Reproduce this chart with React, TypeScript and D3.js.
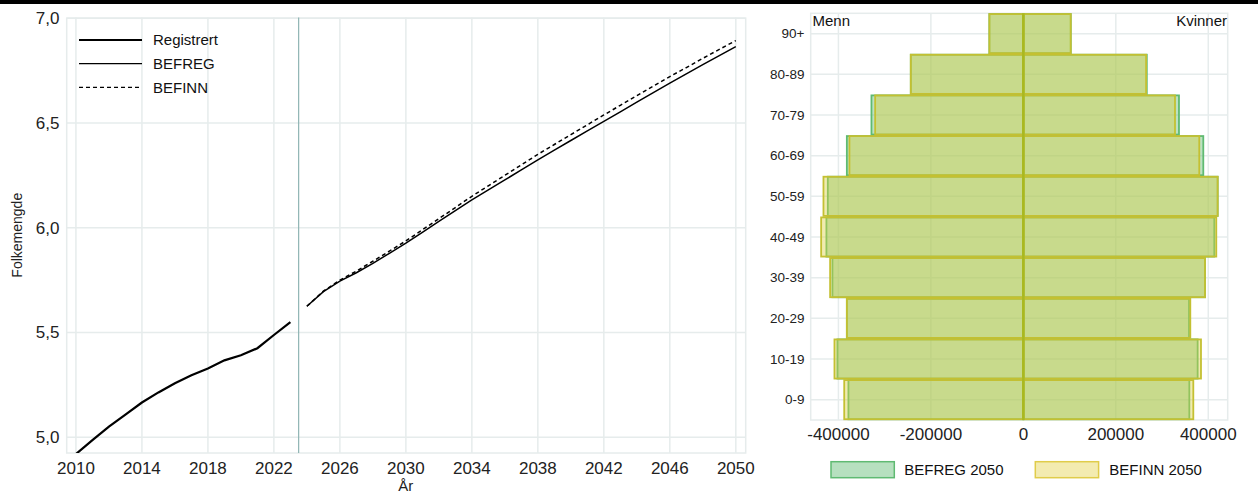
import React from "react";
import * as d3 from "d3";

// ---- Left chart data (millions) ----
const regYears = [2010, 2011, 2012, 2013, 2014, 2015, 2016, 2017, 2018, 2019, 2020, 2021, 2022, 2023];
const regValues = [4.92, 4.986, 5.051, 5.108, 5.166, 5.214, 5.258, 5.296, 5.328, 5.367, 5.391, 5.425, 5.488, 5.55];
const projYears = [2024, 2025, 2026, 2027, 2028, 2029, 2030, 2031, 2032, 2033, 2034, 2035, 2036, 2037, 2038, 2039, 2040, 2041, 2042, 2043, 2044, 2045, 2046, 2047, 2048, 2049, 2050];
const befregValues = [5.625, 5.695, 5.745, 5.785, 5.83, 5.878, 5.926, 5.978, 6.03, 6.082, 6.133, 6.18, 6.228, 6.276, 6.324, 6.37, 6.416, 6.462, 6.507, 6.553, 6.599, 6.645, 6.69, 6.734, 6.778, 6.821, 6.864];
const befinnValues = [5.625, 5.697, 5.75, 5.793, 5.84, 5.888, 5.937, 5.99, 6.043, 6.096, 6.15, 6.2, 6.25, 6.3, 6.35, 6.397, 6.444, 6.491, 6.538, 6.584, 6.63, 6.676, 6.721, 6.764, 6.808, 6.851, 6.893];
const xTickYears = [2010, 2014, 2018, 2022, 2026, 2030, 2034, 2038, 2042, 2046, 2050];
const yTickValues = [5.0, 5.5, 6.0, 6.5, 7.0];
const lineLegend = ["Registrert", "BEFREG", "BEFINN"];

// ---- Right chart data (persons, 2050) ----
const ageGroups = ["90+", "80-89", "70-79", "60-69", "50-59", "40-49", "30-39", "20-29", "10-19", "0-9"];
const befregMen = [73500, 243500, 328600, 381800, 423000, 426000, 413000, 381800, 402200, 378400];
const befregWomen = [102500, 267000, 336600, 389200, 420300, 413000, 392900, 358300, 377000, 359000];
const befinnMen = [73500, 243500, 320600, 376200, 432400, 437400, 418000, 381800, 408600, 387500];
const befinnWomen = [102500, 265500, 328000, 380500, 420300, 417300, 392900, 361100, 384200, 367600];
const pyrTicks = [-400000, -200000, 0, 200000, 400000];
const pyrLegend = ["BEFREG 2050", "BEFINN 2050"];

const FONT = "'Liberation Sans', Arial, sans-serif";
const GRID = "#e6ecec";

export default function App() {
  // Left chart
  const L = { left: 66.7, right: 745.7, top: 17.5, bottom: 453 };
  const x = d3.scaleLinear().domain([2009.44, 2050.6]).range([L.left, L.right]);
  const y = d3.scaleLinear().domain([4.925, 7.003]).range([L.bottom, L.top]);
  const line = d3
    .line<[number, number]>()
    .x((d) => x(d[0]))
    .y((d) => y(d[1]));
  const regPts = regYears.map((yr, i) => [yr, regValues[i]] as [number, number]);
  const befregPts = projYears.map((yr, i) => [yr, befregValues[i]] as [number, number]);
  const befinnPts = projYears.map((yr, i) => [yr, befinnValues[i]] as [number, number]);
  const fmt = (v: number) => d3.format(".1f")(v).replace(".", ",");

  // Right chart
  const R = { left: 810.7, right: 1227.7, top: 13.3, bottom: 420 };
  const px = d3.scaleLinear().domain([-460000, 442000]).range([R.left, R.right]);
  const py = d3.scaleBand().domain(ageGroups).range([R.top, R.bottom]).paddingInner(0).paddingOuter(0);
  const bw = py.bandwidth();

  const series = [
    { men: befregMen, women: befregWomen, fill: "rgba(100,190,118,0.44)", stroke: "#5fba72", legendFill: "rgba(100,190,118,0.47)" },
    { men: befinnMen, women: befinnWomen, fill: "rgba(220,208,64,0.42)", stroke: "#c4c032", legendFill: "rgba(228,210,80,0.45)" },
  ];

  return (
    <svg
      width={1258}
      height={502}
      style={{ position: "absolute", left: 0, top: 0, background: "#fff" }}
      fontFamily={FONT}
    >
      <rect x={0} y={0} width={1258} height={502} fill="#fff" />
      <rect x={0} y={0} width={1258} height={4} fill="#000" />

      {/* ---------- Left chart ---------- */}
      <defs>
        <clipPath id="lclip">
          <rect x={L.left} y={L.top - 2} width={L.right - L.left} height={L.bottom - L.top + 2} />
        </clipPath>
      </defs>
      {xTickYears.map((t) => (
        <line key={"xg" + t} x1={x(t)} x2={x(t)} y1={L.top} y2={L.bottom} stroke={GRID} strokeWidth={1.5} />
      ))}
      {yTickValues.map((t) => (
        <line key={"yg" + t} x1={L.left} x2={L.right} y1={y(t)} y2={y(t)} stroke={GRID} strokeWidth={1.5} />
      ))}
      <rect x={L.left} y={y(7.0)} width={L.right - L.left} height={L.bottom - y(7.0)} fill="none" stroke={GRID} strokeWidth={1.5} />
      <line x1={x(2023.5)} x2={x(2023.5)} y1={L.top} y2={L.bottom} stroke="#8fb5b3" strokeWidth={1.2} />
      <g clipPath="url(#lclip)">
        <path d={line(regPts) || ""} fill="none" stroke="#000" strokeWidth={2.2} />
        <path d={line(befinnPts) || ""} fill="none" stroke="#000" strokeWidth={1.5} strokeDasharray="4,3" />
        <path d={line(befregPts) || ""} fill="none" stroke="#000" strokeWidth={1.5} />
      </g>
      {yTickValues.map((t) => (
        <text key={"yt" + t} x={59.5} y={y(t)} dy="0.35em" textAnchor="end" fontSize={17} fill="#222">
          {fmt(t)}
        </text>
      ))}
      {xTickYears.map((t) => (
        <text key={"xt" + t} x={x(t)} y={473.5} textAnchor="middle" fontSize={17} fill="#222">
          {t}
        </text>
      ))}
      <text x={x(2030)} y={491} textAnchor="middle" fontSize={15} fill="#222">
        År
      </text>
      <text transform={`translate(22,${(L.top + L.bottom) / 2}) rotate(-90)`} textAnchor="middle" fontSize={14} fill="#222">
        Folkemengde
      </text>
      {lineLegend.map((name, i) => (
        <g key={name}>
          <line
            x1={79}
            x2={142}
            y1={40 + i * 23.7}
            y2={40 + i * 23.7}
            stroke="#000"
            strokeWidth={i === 0 ? 2.2 : 1.3}
            strokeDasharray={i === 2 ? "4,3" : undefined}
          />
          <text x={153} y={40 + i * 23.7} dy="0.35em" fontSize={15} fill="#111">
            {name}
          </text>
        </g>
      ))}

      {/* ---------- Right chart ---------- */}
      {pyrTicks.map((t) => (
        <line key={"pg" + t} x1={px(t)} x2={px(t)} y1={R.top} y2={R.bottom} stroke={GRID} strokeWidth={1.5} />
      ))}
      {ageGroups.map((a) => (
        <line key={"ag" + a} x1={R.left} x2={R.right} y1={(py(a) as number) + bw / 2} y2={(py(a) as number) + bw / 2} stroke={GRID} strokeWidth={1.5} />
      ))}
      <rect x={R.left} y={R.top} width={R.right - R.left} height={R.bottom - R.top} fill="none" stroke={GRID} strokeWidth={1.5} />
      {series.map((s, si) => (
        <g key={"s" + si}>
          {ageGroups.map((a, i) => {
            const y0 = py(a) as number;
            return (
              <g key={a}>
                <rect
                  x={px(-s.men[i])}
                  y={y0 + 0.75}
                  width={px(0) - px(-s.men[i])}
                  height={bw - 1.5}
                  fill={s.fill}
                  stroke={s.stroke}
                  strokeWidth={1.8}
                />
                <rect
                  x={px(0)}
                  y={y0 + 0.75}
                  width={px(s.women[i]) - px(0)}
                  height={bw - 1.5}
                  fill={s.fill}
                  stroke={s.stroke}
                  strokeWidth={1.8}
                />
              </g>
            );
          })}
        </g>
      ))}
      <line x1={px(0)} x2={px(0)} y1={R.top} y2={R.bottom} stroke="#a9b820" strokeWidth={2.6} />
      {ageGroups.map((a) => (
        <text key={"at" + a} x={804.5} y={(py(a) as number) + bw / 2} dy="0.35em" textAnchor="end" fontSize={13.5} fill="#222">
          {a}
        </text>
      ))}
      {pyrTicks.map((t) => (
        <text key={"pt" + t} x={px(t)} y={439.5} textAnchor="middle" fontSize={17} fill="#222">
          {t}
        </text>
      ))}
      <text x={812.5} y={26} fontSize={15} fill="#111">
        Menn
      </text>
      <text x={1227} y={26} textAnchor="end" fontSize={15} fill="#111">
        Kvinner
      </text>
      {pyrLegend.map((name, i) => (
        <g key={name}>
          <rect x={831 + i * 204.3} y={461.7} width={63.3} height={16} fill={series[i].legendFill} stroke={i === 0 ? "#5fba72" : "#e0cc4a"} strokeWidth={1.5} />
          <text x={904.3 + i * 205} y={469.7} dy="0.35em" fontSize={15} fill="#111">
            {name}
          </text>
        </g>
      ))}
    </svg>
  );
}
